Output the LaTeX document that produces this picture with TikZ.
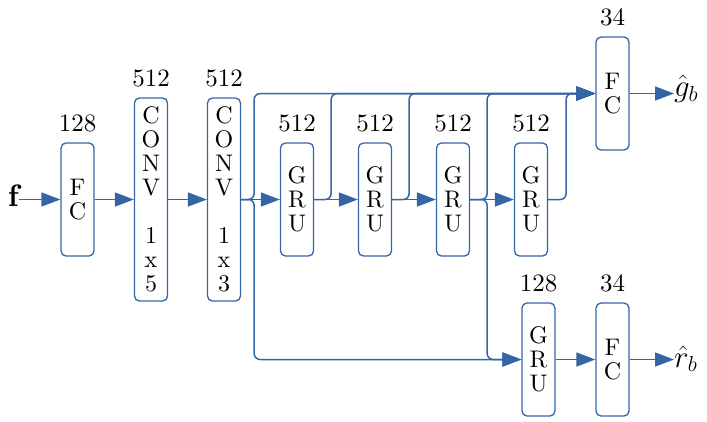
\RequirePackage{fix-cm}
\documentclass[tikz,border=0pt]{standalone}
\usepackage{fontspec}
\setmainfont{lmroman10}[Extension=.otf,UprightFont=*-regular,BoldFont=*-bold,ItalicFont=*-italic,BoldItalicFont=*-bolditalic]
\usetikzlibrary{arrows.meta}
\definecolor{nblue}{RGB}{52,101,164}
\begin{document}
\begin{tikzpicture}[x=1pt,y=-1pt,
  box/.style={draw=nblue,line width=1.3pt,rounded corners=5pt,minimum width=33pt,inner sep=0pt,align=center,font=\fontsize{24}{24}\selectfont},
  small/.style={box,minimum height=113pt},
  tall/.style={box,minimum height=203pt},
  lbl/.style={label={[font=\fontsize{25}{24}\selectfont,inner sep=0pt,label distance=10pt]above:#1}},
  conn/.style={draw=nblue,line width=1.5pt,rounded corners=6pt},
  arr/.style={conn,-{Triangle[length=19pt,width=14pt]}},
  txt/.style={font=\fontsize{31}{31}\selectfont,inner sep=0pt}]
\useasboundingbox (0,0) rectangle (707,421);
\node[txt,anchor=base east] (f) at (19,206.5) {$\mathbf{f}$};
\node[small,lbl=128] (fc1) at (77.5,199.5) {F\\C};
\node[tall,lbl=512] (conv1) at (151,199.5) {C\\O\\N\\V\\~\\1\\x\\5};
\node[tall,lbl=512] (conv2) at (224,199.5) {C\\O\\N\\V\\~\\1\\x\\3};
\node[small,lbl=512] (gru1) at (297,199.5) {G\\R\\U};
\node[small,lbl=512] (gru2) at (375,199.5) {G\\R\\U};
\node[small,lbl=512] (gru3) at (453,199.5) {G\\R\\U};
\node[small,lbl=512] (gru4) at (531,199.5) {G\\R\\U};
\node[small,lbl=34] (fctop) at (612.5,93.5) {F\\C};
\node[small,lbl=128] (grub) at (538.5,359.5) {G\\R\\U};
\node[small,lbl=34] (fcb) at (612.5,359.5) {F\\C};
\node[txt,anchor=base west] (g) at (674,96.5) {$\hat{g}_b$};
\node[txt,anchor=base west] (r) at (674,367) {$\hat{r}_b$};
% main chain
\draw[arr] (f.east |- fc1.west) -- (fc1.west);
\draw[arr] (fc1.east) -- (conv1.west);
\draw[arr] (conv1.east) -- (conv2.west);
\draw[arr] (conv2.east) -- (gru1.west);
\draw[arr] (gru1.east) -- (gru2.west);
\draw[arr] (gru2.east) -- (gru3.west);
\draw[arr] (gru3.east) -- (gru4.west);
\draw[arr] (fctop.east) -- (fctop.east -| g.west);
\draw[arr] (grub.east) -- (grub.east -| fcb.west);
\draw[arr] (fcb.east) -- (fcb.east -| r.west);
% top bus
\draw[arr] (conv2.east) -- ++(13,0) |- (fctop.west);
\draw[arr] (gru1.east) -- ++(17,0) |- (fctop.west);
\draw[arr] (gru2.east) -- ++(17,0) |- (fctop.west);
\draw[arr] (gru3.east) -- ++(17,0) |- (fctop.west);
\draw[arr] (gru4.east) -- ++(18,0) |- (fctop.west);
% bottom bus
\draw[arr] (conv2.east) -- ++(13,0) |- (grub.west);
\draw[arr] (gru3.east) -- ++(17,0) |- (grub.west);
\end{tikzpicture}
\end{document}
